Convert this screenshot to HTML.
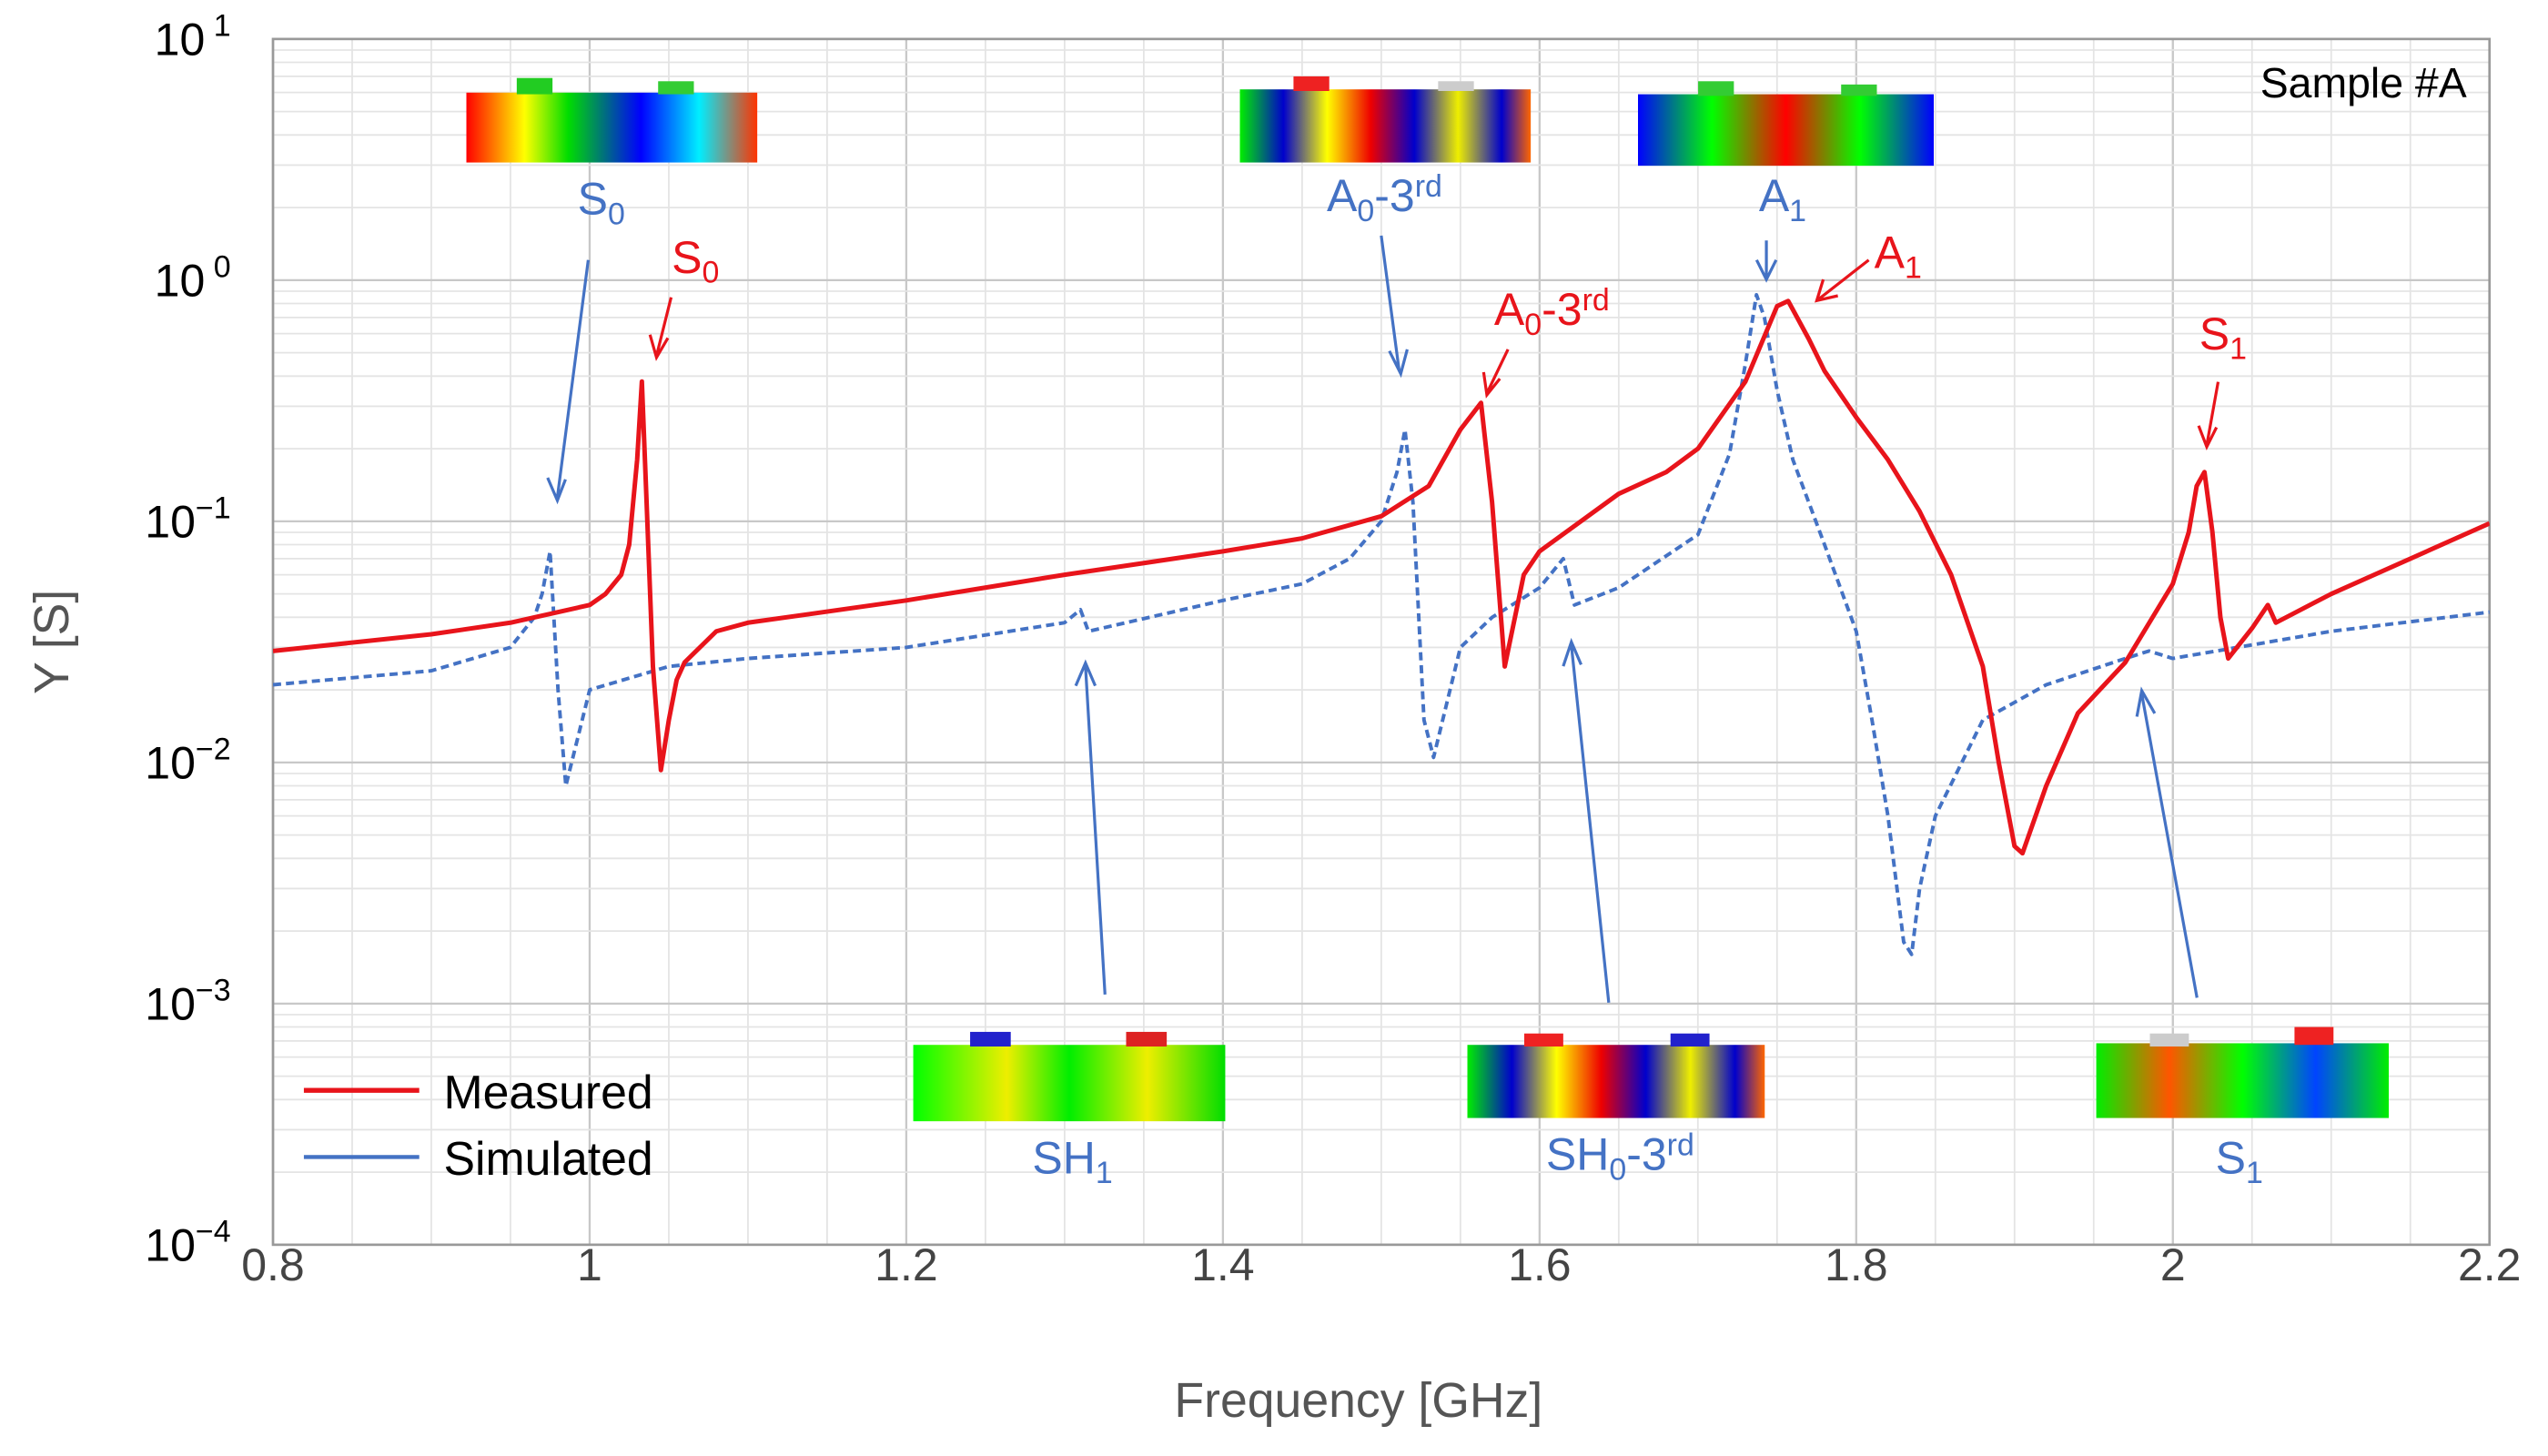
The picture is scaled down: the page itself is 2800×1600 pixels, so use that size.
<!DOCTYPE html>
<html><head><meta charset="utf-8"><style>html,body{margin:0;padding:0;background:#fff}svg{display:block}</style></head>
<body>
<svg id="chart" width="2800" height="1600" viewBox="0 0 1568 896" preserveAspectRatio="none" xmlns="http://www.w3.org/2000/svg" font-family="Liberation Sans, sans-serif">
<defs>
<linearGradient id="g1" x1="0" x2="1"><stop offset="0" stop-color="#f00"/><stop offset="0.2" stop-color="#ff0"/><stop offset="0.35" stop-color="#0d0"/><stop offset="0.6" stop-color="#00f"/><stop offset="0.8" stop-color="#0ef"/><stop offset="1" stop-color="#f30"/></linearGradient>
<linearGradient id="g2" x1="0" x2="1"><stop offset="0" stop-color="#0e0"/><stop offset="0.15" stop-color="#00c"/><stop offset="0.3" stop-color="#ff0"/><stop offset="0.45" stop-color="#e00"/><stop offset="0.6" stop-color="#00c"/><stop offset="0.75" stop-color="#ee0"/><stop offset="0.9" stop-color="#00c"/><stop offset="1" stop-color="#f60"/></linearGradient>
<linearGradient id="g3" x1="0" x2="1"><stop offset="0" stop-color="#00f"/><stop offset="0.25" stop-color="#0f0"/><stop offset="0.5" stop-color="#f00"/><stop offset="0.75" stop-color="#0f0"/><stop offset="1" stop-color="#00f"/></linearGradient>
<linearGradient id="g4" x1="0" x2="1"><stop offset="0" stop-color="#0f0"/><stop offset="0.3" stop-color="#ee0"/><stop offset="0.5" stop-color="#0e0"/><stop offset="0.75" stop-color="#ee0"/><stop offset="1" stop-color="#0d0"/></linearGradient>
<linearGradient id="g5" x1="0" x2="1"><stop offset="0" stop-color="#0e0"/><stop offset="0.25" stop-color="#f50"/><stop offset="0.5" stop-color="#0f0"/><stop offset="0.75" stop-color="#04f"/><stop offset="1" stop-color="#0e0"/></linearGradient>
<clipPath id="plotclip"><rect x="168" y="24" width="1364" height="742"/></clipPath>
</defs>
<g id="grid"></g>
<rect x="168" y="24" width="1364" height="742" fill="none" stroke="#999" stroke-width="1.5"/>
<g id="ticks"></g>
<text x="836" y="872" font-size="30" fill="#555" text-anchor="middle">Frequency [GHz]</text>
<text transform="translate(42,395) rotate(-90)" font-size="30" fill="#555" text-anchor="middle">Y [S]</text>
<text x="1518" y="60" font-size="26" fill="#000" text-anchor="end">Sample #A</text>
<g>
<rect x="287" y="57" width="179" height="43" fill="url(#g1)"/>
<rect x="318" y="48" width="22" height="10" fill="#2c2"/><rect x="405" y="50" width="22" height="8" fill="#3c3"/>
<rect x="763" y="55" width="179" height="45" fill="url(#g2)"/>
<rect x="796" y="47" width="22" height="9" fill="#e22"/><rect x="885" y="50" width="22" height="6" fill="#ccc"/>
<rect x="1008" y="58" width="182" height="44" fill="url(#g3)"/>
<rect x="1045" y="50" width="22" height="9" fill="#3c3"/><rect x="1133" y="52" width="22" height="7" fill="#3c3"/>
<rect x="562" y="643" width="192" height="47" fill="url(#g4)"/>
<rect x="597" y="635" width="25" height="9" fill="#22c"/><rect x="693" y="635" width="25" height="9" fill="#d22"/>
<rect x="903" y="643" width="183" height="45" fill="url(#g2)"/>
<rect x="938" y="636" width="24" height="8" fill="#e22"/><rect x="1028" y="636" width="24" height="8" fill="#22c"/>
<rect x="1290" y="642" width="180" height="46" fill="url(#g5)"/>
<rect x="1323" y="636" width="24" height="8" fill="#ccc"/><rect x="1412" y="632" width="24" height="11" fill="#e22"/>
</g>
<g id="series" clip-path="url(#plotclip)"></g>
<g fill="#4472c4" font-size="28" text-anchor="middle" stroke-width="1.8">
<text x="370" y="132">S<tspan font-size="19" dy="6">0</tspan></text>
<text x="852" y="130">A<tspan font-size="19" dy="6">0</tspan><tspan dy="-6">-3</tspan><tspan font-size="19" dy="-9">rd</tspan></text>
<text x="1097" y="130">A<tspan font-size="19" dy="6">1</tspan></text>
<text x="660" y="722">SH<tspan font-size="19" dy="6">1</tspan></text>
<text x="997" y="720">SH<tspan font-size="19" dy="6">0</tspan><tspan dy="-6">-3</tspan><tspan font-size="19" dy="-9">rd</tspan></text>
<text x="1378" y="722">S<tspan font-size="19" dy="6">1</tspan></text>
<g stroke="#4472c4" fill="none">
<path d="M362 160 L343 306 M337 294 L343 308 L348 295"/>
<path d="M850 145 L861 228 M855 216 L862 230 L866 215"/>
<path d="M1087 148 L1087 171 M1081 160 L1087 172 L1093 160"/>
<path d="M680 612 L668 410 M662 422 L668 408 L674 422"/>
<path d="M990 617 L967 397 M962 410 L967 395 L973 409"/>
<path d="M1352 614 L1318 427 M1315 441 L1318 425 L1326 439"/>
</g>
</g>
<g fill="#e8141b" font-size="28" text-anchor="middle" stroke-width="1.8">
<text x="428" y="168">S<tspan font-size="19" dy="6">0</tspan></text>
<text x="955" y="200">A<tspan font-size="19" dy="6">0</tspan><tspan dy="-6">-3</tspan><tspan font-size="19" dy="-9">rd</tspan></text>
<text x="1168" y="165">A<tspan font-size="19" dy="6">1</tspan></text>
<text x="1368" y="215">S<tspan font-size="19" dy="6">1</tspan></text>
<g stroke="#e8141b" fill="none">
<path d="M413 183 L404 219 M400 206 L404 220 L411 208"/>
<path d="M928 215 L915 242 M913 229 L915 243 L923 233"/>
<path d="M1150 160 L1118 185 M1122 172 L1118 185 L1131 182"/>
<path d="M1365 235 L1358 274 M1353 262 L1358 275 L1364 263"/>
</g>
</g>
<g>
<line x1="187" y1="671" x2="258" y2="671" stroke="#e8141b" stroke-width="3"/>
<text x="273" y="682" font-size="29" fill="#000">Measured</text>
<line x1="187" y1="712" x2="258" y2="712" stroke="#4472c4" stroke-width="2.5"/>
<text x="273" y="723" font-size="29" fill="#000">Simulated</text>
</g>
</svg>
<script>
const xTicks = [0.8, 1.0, 1.2, 1.4, 1.6, 1.8, 2.0, 2.2];
const xTickLabels = ["0.8", "1", "1.2", "1.4", "1.6", "1.8", "2", "2.2"];
const yDecades = [1, 0, -1, -2, -3, -4];
const measuredF = [0.8,0.9,0.95,1.0,1.01,1.02,1.025,1.03,1.033,1.036,1.04,1.045,1.05,1.055,1.06,1.08,1.1,1.2,1.3,1.4,1.45,1.5,1.53,1.55,1.563,1.57,1.578,1.59,1.6,1.65,1.68,1.7,1.73,1.75,1.757,1.77,1.78,1.8,1.82,1.84,1.86,1.88,1.89,1.9,1.905,1.92,1.94,1.97,2.0,2.01,2.015,2.02,2.025,2.03,2.035,2.05,2.06,2.065,2.1,2.2];
const measuredY = [0.029,0.034,0.038,0.045,0.05,0.06,0.08,0.18,0.38,0.12,0.025,0.0093,0.015,0.022,0.026,0.035,0.038,0.047,0.06,0.075,0.085,0.105,0.14,0.24,0.31,0.12,0.025,0.06,0.075,0.13,0.16,0.2,0.38,0.78,0.82,0.57,0.42,0.27,0.18,0.11,0.06,0.025,0.01,0.0045,0.0042,0.008,0.016,0.026,0.055,0.09,0.14,0.16,0.09,0.04,0.027,0.036,0.045,0.038,0.05,0.098];
const simulatedF = [0.8,0.9,0.95,0.965,0.97,0.975,0.98,0.985,1.0,1.05,1.1,1.2,1.3,1.31,1.315,1.4,1.45,1.48,1.5,1.51,1.515,1.52,1.527,1.533,1.55,1.57,1.6,1.615,1.622,1.65,1.7,1.72,1.73,1.737,1.742,1.75,1.76,1.78,1.8,1.81,1.82,1.83,1.835,1.84,1.85,1.88,1.92,1.97,1.985,2.0,2.1,2.2];
const simulatedY = [0.021,0.024,0.03,0.04,0.05,0.075,0.02,0.008,0.02,0.025,0.027,0.03,0.038,0.043,0.035,0.047,0.055,0.07,0.1,0.16,0.24,0.12,0.015,0.0105,0.03,0.04,0.053,0.07,0.045,0.053,0.088,0.19,0.45,0.87,0.7,0.35,0.18,0.08,0.035,0.015,0.006,0.0018,0.0016,0.003,0.006,0.015,0.021,0.027,0.029,0.027,0.035,0.042];

const NS = "http://www.w3.org/2000/svg";
const L = 168, R = 1532, T = 24, B = 766;
function xScale(f) { return L + (f - 0.8) / 1.4 * (R - L); }
function yScale(v) { return T + (1 - Math.log10(v)) / 5 * (B - T); }
function mk(tag, attrs, parent) {
  const e = document.createElementNS(NS, tag);
  for (const k in attrs) e.setAttribute(k, attrs[k]);
  parent.appendChild(e);
  return e;
}
const grid = document.getElementById('grid');
for (let i = 0; i <= 28; i++) {
  const f = 0.8 + i * 0.05;
  const major = i % 4 === 0;
  const ln = mk('line', {x1: xScale(f), x2: xScale(f), y1: T, y2: B, stroke: major ? '#c8c8c8' : '#e4e4e4', 'stroke-width': major ? 1.3 : 1}, grid);
  
  
}
for (let d = -4; d < 1; d++) {
  for (let m = 1; m < 10; m++) {
    const v = m * Math.pow(10, d);
    const ln = mk('line', {x1: L, x2: R, y1: yScale(v), y2: yScale(v), stroke: m === 1 ? '#c8c8c8' : '#e4e4e4', 'stroke-width': m === 1 ? 1.3 : 1}, grid);
    
    
  }
}
const ticks = document.getElementById('ticks');
xTicks.forEach((f, i) => {
  const t = mk('text', {x: xScale(f), y: 788, 'font-size': 28, fill: '#444', 'text-anchor': 'middle'}, ticks);
  
  
  t.textContent = xTickLabels[i];
});
yDecades.forEach((d) => {
  const t = mk('text', {x: 142, y: yScale(Math.pow(10, d)) + 10, 'font-size': 28, fill: '#000', 'text-anchor': 'end'}, ticks);
  
  
  const base = mk('tspan', {}, t);
  base.textContent = '10';
  const sup = mk('tspan', {dy: -12, 'font-size': 19}, t);
  sup.textContent = d > 0 ? ' ' + d : (d === 0 ? ' 0' : '\u2212' + (-d));
});
const series = document.getElementById('series');
function pathFor(fs, ys) {
  return fs.map((f, i) => (i ? 'L' : 'M') + xScale(f).toFixed(1) + ' ' + yScale(ys[i]).toFixed(1)).join(' ');
}
const sim = mk('path', {d: pathFor(simulatedF, simulatedY), fill: 'none', stroke: '#4472c4', 'stroke-width': 2.2, 'stroke-dasharray': '5 3', 'stroke-linejoin': 'round'}, series);


const meas = mk('path', {d: pathFor(measuredF, measuredY), fill: 'none', stroke: '#e8141b', 'stroke-width': 2.8, 'stroke-linejoin': 'round'}, series);


</script>
</body></html>
